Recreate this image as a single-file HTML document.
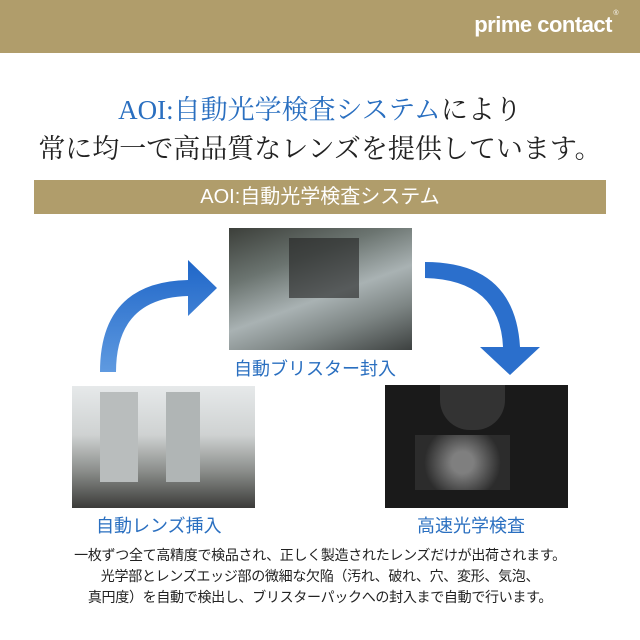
<!DOCTYPE html>
<html><head><meta charset="utf-8"><style>
body{margin:0;width:640px;height:640px;background:#fff;position:relative;overflow:hidden;font-family:"Liberation Sans","Noto Sans CJK JP",sans-serif}
.hdr{position:absolute;left:0;top:0;width:640px;height:53px;background:#b09d6b}
.logo{position:absolute;right:28px;top:12px;color:#fff;font-weight:bold;font-size:22px;letter-spacing:-0.5px}
.logo sup{font-size:7px;font-weight:normal;position:absolute;right:-6px;top:-2px}
.t{position:absolute;left:0;width:640px;text-align:center;font-family:"Liberation Serif","Noto Serif CJK SC",serif;font-size:27px;color:#222;white-space:nowrap}
.bar{position:absolute;left:34px;top:180px;width:572px;height:34px;background:#b09d6b;color:#fff;text-align:center;font-size:20px;line-height:34px}
.ph{position:absolute}
.lb{position:absolute;color:#2a6fc0;font-size:18px;white-space:nowrap}
.ft{position:absolute;left:0;width:640px;text-align:center;font-size:14px;color:#222;line-height:21px;top:545px;letter-spacing:-0.3px}
</style></head><body>
<div class="hdr"><div class="logo">prime contact<sup>®</sup></div></div>
<div class="t" style="top:88px"><span style="color:#2a6fc0">AOI:自動光学検査システム</span>により</div>
<div class="t" style="top:127px">常に均一で高品質なレンズを提供しています。</div>
<div class="bar">AOI:自動光学検査システム</div>
<div class="ph" style="left:229px;top:228px;width:183px;height:122px;background:linear-gradient(160deg,#3c3f3a 0%,#6b7470 30%,#a9b2b3 55%,#7d8584 75%,#3d4140 100%)">
<div style="position:absolute;left:60px;top:10px;width:70px;height:60px;background:#222;opacity:.6"></div></div>
<div class="ph" style="left:72px;top:386px;width:183px;height:122px;background:linear-gradient(180deg,#e6e9ea 0%,#cfd2d2 40%,#8a8d8a 70%,#3b3b39 100%)">
<div style="position:absolute;left:28px;top:6px;width:38px;height:90px;background:#b9bdbd"></div>
<div style="position:absolute;left:94px;top:6px;width:34px;height:90px;background:#b0b5b5"></div></div>
<div class="ph" style="left:385px;top:385px;width:183px;height:123px;background:#1a1a1a">
<div style="position:absolute;left:55px;top:0;width:65px;height:45px;background:#333;border-radius:0 0 30px 30px"></div>
<div style="position:absolute;left:30px;top:50px;width:95px;height:55px;background:radial-gradient(circle,#aaa 20%,#333 70%);opacity:.7"></div></div>
<div class="lb" style="left:234px;top:355px">自動ブリスター封入</div>
<div class="lb" style="left:96px;top:512px">自動レンズ挿入</div>
<div class="lb" style="left:417px;top:512px">高速光学検査</div>
<svg style="position:absolute;left:0;top:0" width="640" height="640">
<defs><linearGradient id="g" x1="0" y1="1" x2="0" y2="0"><stop offset="0" stop-color="#5f9ae0"/><stop offset="1" stop-color="#1f66c8"/></linearGradient></defs>
<path d="M100 372 Q100 282 188 280 L188 260 L217 288 L188 316 L188 296 Q116 298 116 372 Z" fill="url(#g)"/>
<path d="M425 262 Q515 262 520 347 L540 347 L510 375 L480 347 L503 347 Q500 280 425 278 Z" fill="#2b6fcc"/>
</svg>
<div class="ft">一枚ずつ全て高精度で検品され、正しく製造されたレンズだけが出荷されます。<br>光学部とレンズエッジ部の微細な欠陥（汚れ、破れ、穴、変形、気泡、<br>真円度）を自動で検出し、ブリスターパックへの封入まで自動で行います。</div>
</body></html>
